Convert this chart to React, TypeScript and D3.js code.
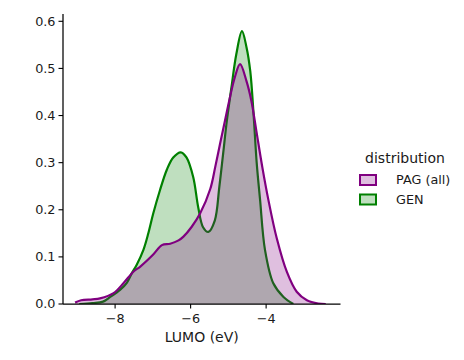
import React from "react";
import * as d3 from "d3";

// LUMO grid (eV) and KDE density
const pagLumo = [-9.06, -8.9, -8.6, -8.4, -8.04, -7.78, -7.51, -7.34, -6.99, -6.76, -6.54, -6.32, -6.19, -5.97, -5.75, -5.48, -5.35, -5.22, -5.09, -4.96, -4.83, -4.69, -4.52, -4.39, -4.26, -4.1, -3.94, -3.72, -3.45, -3.19, -2.92, -2.62, -2.42];
const pagDensity = [0.003, 0.008, 0.01, 0.012, 0.023, 0.044, 0.069, 0.079, 0.105, 0.125, 0.128, 0.135, 0.143, 0.164, 0.192, 0.244, 0.29, 0.34, 0.389, 0.438, 0.481, 0.509, 0.473, 0.431, 0.368, 0.29, 0.221, 0.14, 0.068, 0.026, 0.008, 0.001, 0.0];

const genLumo = [-8.95, -8.6, -8.32, -8.13, -7.87, -7.69, -7.56, -7.43, -7.25, -7.12, -6.99, -6.81, -6.63, -6.46, -6.26, -6.11, -5.93, -5.8, -5.67, -5.53, -5.36, -5.24, -5.14, -5.04, -4.92, -4.79, -4.64, -4.52, -4.42, -4.33, -4.25, -4.16, -4.03, -3.81, -3.54, -3.28];
const genDensity = [0.0, 0.002, 0.005, 0.015, 0.03, 0.045, 0.065, 0.083, 0.115, 0.15, 0.192, 0.242, 0.285, 0.311, 0.322, 0.311, 0.269, 0.206, 0.163, 0.153, 0.177, 0.248, 0.318, 0.389, 0.459, 0.53, 0.579, 0.545, 0.494, 0.4, 0.3, 0.221, 0.115, 0.044, 0.015, 0.0];

const xTicks = [-8, -6, -4];
const yTicks = [0.0, 0.1, 0.2, 0.3, 0.4, 0.5, 0.6];

const seriesNames = ["PAG (all)", "GEN"];
const seriesColors = ["purple", "green"];

const W = 464;
const H = 360;
const FONT = "DejaVu Sans, sans-serif";

export default function App() {
  const x = d3.scaleLinear().domain([-9.38, -2.03]).range([63, 340.5]);
  const y = d3.scaleLinear().domain([0, 0.6155]).range([304, 14]);

  const pag = pagLumo.map((v, i) => ({ v, d: pagDensity[i] }));
  const gen = genLumo.map((v, i) => ({ v, d: genDensity[i] }));

  const curve = d3.curveCatmullRom.alpha(0.5);
  const area = d3
    .area<{ v: number; d: number }>()
    .x(p => x(p.v))
    .y0(y(0))
    .y1(p => y(p.d))
    .curve(curve);
  const line = d3
    .line<{ v: number; d: number }>()
    .x(p => x(p.v))
    .y(p => y(p.d))
    .curve(curve);

  // GEN underneath, PAG on top (as in the reference)
  const layers = [
    { data: gen, color: seriesColors[1] },
    { data: pag, color: seriesColors[0] },
  ];

  const [x0, x1] = x.range();
  const [yb, yt] = y.range();

  return (
    <svg
      width={W}
      height={H}
      style={{ position: "absolute", left: 0, top: 0, background: "white" }}
      fontFamily={FONT}
    >
      <defs>
        <clipPath id="plot">
          <rect x={x0} y={0} width={x1 - x0} height={yb} />
        </clipPath>
      </defs>
      <g clipPath="url(#plot)">
        {layers.map((l, i) => (
          <g key={i}>
            <path d={area(l.data) ?? ""} fill={l.color} fillOpacity={0.25} stroke="none" />
            <path d={line(l.data) ?? ""} fill="none" stroke={l.color} strokeWidth={2.2} strokeLinejoin="round" />
          </g>
        ))}
      </g>

      {/* axes */}
      <line x1={x0} x2={x0} y1={yb} y2={yt} stroke="black" strokeWidth={1.25} />
      <line x1={x0} x2={x1} y1={yb} y2={yb} stroke="black" strokeWidth={1.25} />

      {yTicks.map(t => (
        <g key={t} transform={`translate(0,${y(t)})`}>
          <line x1={x0 - 4.5} x2={x0} stroke="black" strokeWidth={1.1} />
          <text x={x0 - 7.5} dy="0.35em" textAnchor="end" fontSize={12.8} fill="#1a1a1a">
            {t.toFixed(1)}
          </text>
        </g>
      ))}
      {xTicks.map(t => (
        <g key={t} transform={`translate(${x(t)},0)`}>
          <line y1={yb} y2={yb + 4.5} stroke="black" strokeWidth={1.1} />
          <text y={yb + 19} textAnchor="middle" fontSize={12.8} fill="#1a1a1a">
            {"\u2212" + Math.abs(t)}
          </text>
        </g>
      ))}
      <text x={(x0 + x1) / 2} y={342} textAnchor="middle" fontSize={14} fill="#1a1a1a">
        LUMO (eV)
      </text>

      {/* legend */}
      <text x={405} y={163} textAnchor="middle" fontSize={14} fill="#1a1a1a">
        distribution
      </text>
      {seriesNames.map((name, i) => (
        <g key={name} transform={`translate(0,${180 + i * 19.5})`}>
          <rect
            x={360}
            y={-5}
            width={16}
            height={10}
            fill={seriesColors[i]}
            fillOpacity={0.25}
            stroke={seriesColors[i]}
            strokeWidth={2}
          />
          <text x={396} dy="0.35em" fontSize={12.8} fill="#1a1a1a">
            {name}
          </text>
        </g>
      ))}
    </svg>
  );
}
